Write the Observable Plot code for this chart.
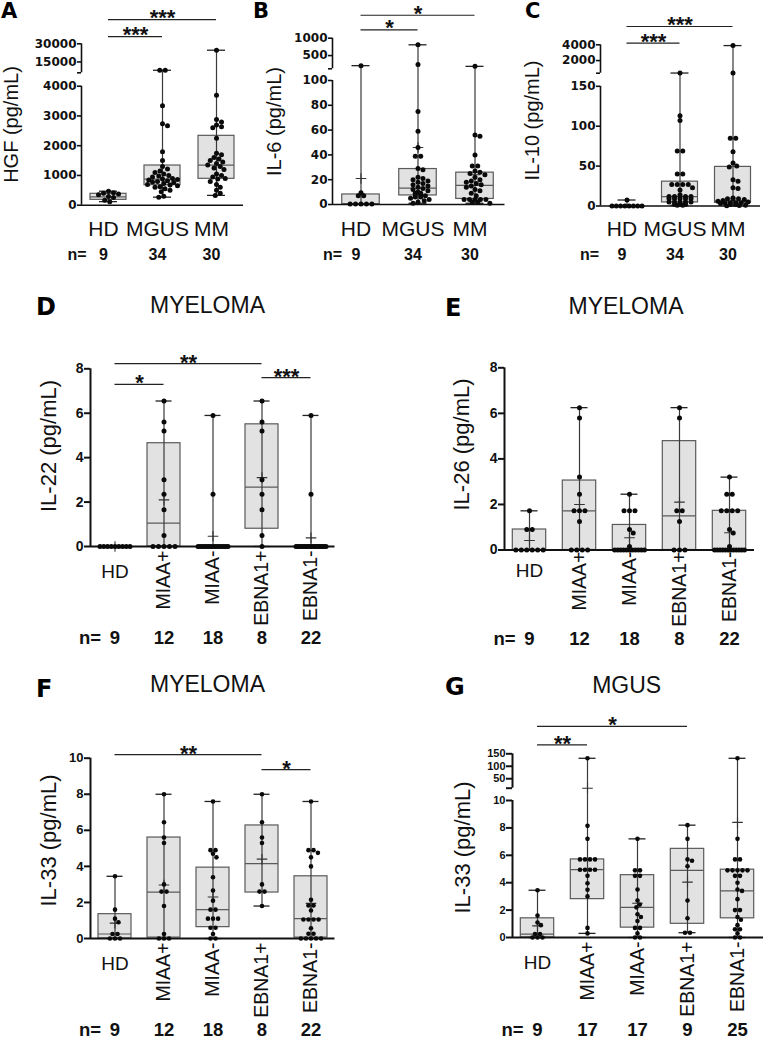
<!DOCTYPE html>
<html><head><meta charset="utf-8">
<script src="https://cdn.jsdelivr.net/npm/d3@7"></script>
<script src="https://cdn.jsdelivr.net/npm/@observablehq/plot@0.6"></script>
<style>
body{margin:0;background:#fff;}
#fig{position:relative;width:763px;height:1039px;overflow:hidden;background:#fff;}
</style></head><body><div id="fig"></div>
<script>
// ---------------- DATA ----------------
const topGroups = ["HD", "MGUS", "MM"];
const topCounts = [9, 34, 30];
const subGroups = ["HD", "MIAA+", "MIAA-", "EBNA1+", "EBNA1-"];
const myelomaCounts = [9, 12, 18, 8, 22];
const mgusCounts = [9, 17, 17, 9, 25];
const panelLetters = ["A", "B", "C", "D", "E", "F", "G"];
const panelTitles = ["MYELOMA", "MYELOMA", "MYELOMA", "MGUS"];

// A: HGF (pg/mL)
const hgfHD = [470, 420, 400, 380, 350, 290, 260, 170, 120];
const hgfMGUS = [8100, 8100, 3340, 2740, 2670, 1800, 1500, 1300, 1220, 1150, 1100, 1050, 1000, 980, 950, 900, 880, 860, 850, 820, 800, 780, 760, 730, 700, 680, 650, 620, 600, 550, 500, 450, 300, 270];
const hgfMM = [24700, 3700, 2880, 2800, 2700, 2640, 2600, 2250, 1750, 1700, 1600, 1550, 1500, 1450, 1400, 1350, 1300, 1250, 1200, 1050, 1000, 950, 900, 880, 800, 700, 600, 500, 400, 330];
const hgfQ1 = [180, 672, 887], hgfMedian = [282, 874, 1345], hgfQ3 = [383, 1334, 2332];
const hgfTicks = [0, 1000, 2000, 3000, 4000, 6000, 15000, 30000];
const hgfSig = [{from: "HD", to: "MGUS", y: 36000, label: "***"}, {from: "HD", to: "MM", y: 50000, label: "***"}];

// B: IL-6
const il6HD = [210, 9.5, 7, 7, 0.5, 0.5, 0.5, 0.5, 0.5];
const il6MGUS = [810, 244, 75, 59, 46, 39, 39, 29, 28, 22, 21, 20, 19, 18, 17, 16, 15, 14, 13, 12, 11, 10, 9, 9, 8, 8, 7, 6, 6, 5, 4, 3, 2, 1];
const il6MM = [190, 56, 55, 40, 31, 31, 27, 26, 25, 24, 22, 20, 19, 18, 17, 16, 15, 14, 12, 11, 9, 7, 4, 4, 4, 4, 4, 2, 2, 1];
const il6Q1 = [0.3, 7.3, 4.5], il6Median = [0.5, 13.2, 15.4], il6Q3 = [8.1, 28.6, 25.7], il6Mean = [21, 46, 24];
const il6Ticks = [0, 20, 40, 60, 80, 100, 120, 500, 1000];
const il6Sig = [{from: "HD", to: "MGUS", y: 1240, label: "*"}, {from: "HD", to: "MM", y: 1660, label: "*"}];

// C: IL-10
const il10HD = [7.5, 0, 0, 0, 0, 0, 0, 0, 0];
const il10MGUS = [420, 113, 107, 69, 69, 40, 40, 27, 27, 27, 27, 23, 20, 14, 12, 12, 12, 12, 12, 9, 9, 9, 9, 9, 5, 5, 5, 5, 5, 2, 2, 2, 1, 1];
const il10MM = [3900, 420, 85, 85, 68, 54, 50, 49, 33, 31, 23, 22, 10, 9, 9, 9, 8, 7, 6, 5, 4, 4, 4, 4, 3, 2, 2, 1, 0.5, 0.3];
const il10Q1 = [0, 4.5, 4], il10Median = [0, 11.8, 6], il10Q3 = [0, 30.5, 49];
const il10Ticks = [0, 50, 100, 150, 400, 2000, 4000];
const il10Sig = [{from: "HD", to: "MGUS", y: 4200, label: "***"}, {from: "HD", to: "MM", y: 6320, label: "***"}];

// D: IL-22 myeloma
const il22HD = [0, 0, 0, 0, 0, 0, 0, 0, 0];
const il22MIAApos = [6.55, 5.6, 5.2, 3.0, 2.35, 1.65, 0.5, 0, 0, 0, 0, 0];
const il22MIAAneg = [5.9, 2.35, 0, 0, 0, 0, 0, 0, 0, 0, 0, 0, 0, 0, 0, 0, 0, 0];
const il22EBNApos = [6.55, 5.6, 5.2, 3.0, 2.35, 1.65, 0.5, 0];
const il22EBNAneg = [5.9, 2.35, 0, 0, 0, 0, 0, 0, 0, 0, 0, 0, 0, 0, 0, 0, 0, 0, 0, 0, 0, 0];
const il22Q1 = [0, 0, 0, 0.8, 0], il22Median = [0, 1.05, 0, 2.67, 0], il22Q3 = [0, 4.65, 0, 5.5, 0];
const il22Mean = [0, 2.1, 0.46, 3.1, 0.39];
const il22Sig = [{from: "HD", to: "MIAA+", y: 7.3, label: "*"}, {from: "HD", to: "EBNA1+", y: 8.23, label: "**"}, {from: "EBNA1+", to: "EBNA1-", y: 7.6, label: "***"}];

// E: IL-26 myeloma
const il26HD = [1.72, 0.9, 0.9, 0, 0, 0, 0, 0, 0];
const il26MIAApos = [6.25, 5.8, 3.2, 2.45, 1.72, 1.72, 1.72, 1.25, 0, 0, 0, 0];
const il26MIAAneg = [2.45, 1.72, 1.72, 1.72, 0.9, 0.75, 0.15, 0, 0, 0, 0, 0, 0, 0, 0, 0, 0, 0];
const il26EBNApos = [6.25, 5.8, 1.72, 1.72, 1.25, 0, 0, 0];
const il26EBNAneg = [3.2, 2.45, 2.45, 1.72, 1.72, 1.72, 1.72, 0.9, 0.75, 0.15, 0, 0, 0, 0, 0, 0, 0, 0, 0, 0, 0, 0];
const il26Q1 = [0, 0, 0, 0, 0], il26Median = [0, 1.72, 0, 1.5, 0], il26Q3 = [0.9, 3.05, 1.1, 4.78, 1.72];
const il26Mean = [0.42, 2.0, 0.54, 2.1, 0.76];

// F: IL-33 myeloma
const il33mHD = [3.45, 1.6, 1.1, 0.9, 0.25, 0.25, 0, 0, 0];
const il33mMIAApos = [8.0, 6.45, 5.6, 5.3, 3.0, 2.6, 2.6, 1.8, 0.25, 0, 0, 0];
const il33mMIAAneg = [7.6, 4.9, 4.9, 4.7, 4.5, 3.4, 2.66, 2.1, 1.6, 1.6, 1.1, 1.1, 1.1, 0.6, 0.6, 0.25, 0, 0];
const il33mEBNApos = [8.0, 6.45, 5.6, 5.3, 3.0, 2.6, 2.6, 1.8];
const il33mEBNAneg = [7.6, 4.9, 4.9, 4.75, 4.5, 4.0, 2.15, 1.83, 1.83, 1.55, 1.05, 1.05, 1.05, 1.05, 0.57, 0.26, 0.26, 0, 0, 0, 0, 0];
const il33mQ1 = [0, 0.05, 0.63, 2.55, 0.05], il33mMedian = [0.25, 2.57, 1.6, 4.15, 1.1], il33mQ3 = [1.35, 5.6, 3.93, 6.27, 3.45];
const il33mMean = [0.85, 2.97, 2.3, 4.4, 1.95];
const il33mSig = [{from: "HD", to: "EBNA1+", y: 10.2, label: "**"}, {from: "EBNA1+", to: "EBNA1-", y: 9.37, label: "*"}];

// G: IL-33 MGUS
const il33gHD = [3.45, 1.6, 1.1, 0.9, 0.25, 0.25, 0, 0, 0];
const il33gMIAApos = [132, 8.15, 7.2, 5.7, 5.7, 5.7, 5.7, 4.95, 4.95, 4.95, 4.95, 4.5, 3.96, 3.48, 3.0, 0.7, 0.3];
const il33gMIAAneg = [7.2, 4.9, 4.9, 4.5, 4.5, 3.5, 2.7, 2.4, 2.2, 1.7, 1.5, 1.2, 0.7, 0.7, 0.3, 0, 0];
const il33gEBNApos = [8.2, 7.2, 5.7, 5.6, 5.2, 2.7, 1.4, 0.35, 0.35];
const il33gEBNAneg = [132, 7.2, 5.7, 5.7, 4.9, 4.9, 4.9, 4.9, 4.9, 4.5, 4.5, 4.0, 3.5, 3.4, 2.8, 2.0, 2.0, 1.5, 1.3, 0.9, 0.6, 0.6, 0.3, 0, 0];
const il33gQ1 = [0, 2.8, 0.72, 1.0, 1.4], il33gMedian = [0.25, 4.95, 2.2, 4.9, 3.4], il33gQ3 = [1.4, 5.7, 4.55, 6.47, 4.95];
const il33gMean = [0.85, 12, 2.5, 4.04, 8.4];
const il33gTicks = [0, 2, 4, 6, 8, 10, 12, 50, 100, 150];
const il33gSig = [{from: "HD", to: "MIAA+", y: 186, label: "**"}, {from: "HD", to: "EBNA1+", y: 260, label: "*"}];

// ---------------- LAYOUT ----------------
const fig = document.getElementById("fig");
const SANS = "Liberation Sans, Arial, Helvetica, sans-serif";

function swarm(vals, ys, r, maxHalf) {
  const d = 2 * r;
  const counts = d3.rollup(vals, v => v.length, v => v);
  const keys = Array.from(counts.keys()).sort((a, b) => b - a);
  const placed = [], out = [];
  for (const v of keys) {
    const k = counts.get(v), y = ys(v);
    if (k > 1) {
      const sp = Math.min(d * 1.1, (2 * maxHalf) / (k - 1));
      for (let i = 0; i < k; i++) {
        const x = (i - (k - 1) / 2) * sp;
        placed.push([x, y]); out.push({v, off: x});
      }
    } else {
      let best = 0, bestScore = -Infinity;
      for (let j = 0; j < 200; j++) {
        const c = j === 0 ? 0 : (j % 2 ? 1 : -1) * Math.ceil(j / 2) * r * 0.5;
        if (Math.abs(c) > maxHalf) break;
        const md = placed.length ? d3.min(placed, p => Math.hypot(p[0] - c, p[1] - y)) : Infinity;
        if (md >= d * 0.95) { best = c; break; }
        if (md > bestScore) { bestScore = md; best = c; }
      }
      placed.push([best, y]); out.push({v, off: best});
    }
  }
  return out;
}

function panel(c) {
  const L = c.svg.left, T = c.svg.top;
  const yRange = c.yPx.map(p => p - T);
  const ys = d3.scaleLinear().domain(c.yDomain).range(yRange);
  const n = c.groups.length;
  const frameR = c.frameL + n * c.step;
  const g0 = c.groups[0];
  const gi = Object.fromEntries(c.groups.map((g, i) => [g, i]));
  const baseY = c.yPx[0];
  const pts = [];
  c.groups.forEach((g, i) => swarm(c.values[i], ys, c.r, c.maxHalf)
    .forEach(o => pts.push({g, v: o.v, x: 0.5 + o.off / c.step})));
  const stats = c.groups.map((g, i) => ({
    g, q1: c.q1[i], med: c.med[i], q3: c.q3[i],
    lo: d3.min(c.values[i]), hi: d3.max(c.values[i]),
    mean: c.mean ? c.mean[i] : null
  }));
  const hidden = c.hidden || [];
  const marks = [
    Plot.rect(stats, {fx: "g", y1: "q1", y2: "q3", fill: "#e2e2e2", stroke: "#5a5a5a", strokeWidth: 1.2, insetLeft: c.boxInset, insetRight: c.boxInset}),
    Plot.tickY(stats, {fx: "g", y: "med", stroke: "#5a5a5a", strokeWidth: 1.2, insetLeft: c.boxInset, insetRight: c.boxInset}),
    Plot.ruleX(stats, {fx: "g", x: () => 0.5, y1: "lo", y2: "hi", stroke: "#3a3a3a", strokeWidth: 1.2}),
    Plot.tickY(stats, {fx: "g", y: "hi", stroke: "#222", strokeWidth: 1.3, insetLeft: c.capInset, insetRight: c.capInset}),
    Plot.tickY(stats, {fx: "g", y: "lo", stroke: "#222", strokeWidth: 1.3, insetLeft: c.capInset, insetRight: c.capInset}),
    Plot.ruleX(c.segments, {fx: () => g0, x: () => 0, y1: d => d[0], y2: d => d[1], stroke: "#111", strokeWidth: c.axisW}),
    Plot.ruleY([0], {fx: () => g0, y: d => d, x1: () => 0, x2: () => (c.baseEnd - c.frameL) / c.step, stroke: "#111", strokeWidth: c.axisW}),
    Plot.axisY({ticks: c.ticks, tickFormat: v => hidden.includes(v) ? "" : String(v), tickSize: c.tickSize, tickPadding: c.tickPad,
      fontSize: c.tickFontSize, fontWeight: "bold", fontFamily: c.tickFont, strokeWidth: c.axisW, label: null}),
    Plot.dot(stats.filter(d => d.mean != null), {fx: "g", x: () => 0.5, y: "mean", symbol: "plus", r: 3.5, stroke: "#333", strokeWidth: 1.1}),
    Plot.dot(pts, {fx: "g", x: "x", y: "v", r: c.r, fill: "#0a0a0a"})
  ];
  if (c.sig) {
    const rows = c.sig.map(s => ({...s, x1: gi[s.from] + 0.5, x2: gi[s.to] + 0.5}));
    marks.push(Plot.ruleY(rows, {fx: () => g0, y: "y", x1: "x1", x2: "x2", stroke: "#222", strokeWidth: 1.2}));
    marks.push(Plot.text(rows, {fx: () => g0, x: d => (d.x1 + d.x2) / 2, y: "y", text: "label", lineAnchor: "bottom", dy: c.starDy, fontSize: c.starSize, fontWeight: "bold", fontFamily: SANS}));
  }
  const labelRows = c.groups.map((g, i) => ({g, rot: !!c.rotate && i > 0}));
  marks.push(Plot.text(labelRows.filter(d => !d.rot), {fx: "g", x: () => 0.5, y: () => 0, text: "g", dy: c.labelY - baseY, dx: c.labelDx || 0, lineAnchor: "middle", fontSize: c.labelSize, fontFamily: SANS}));
  if (c.rotate) marks.push(Plot.text(labelRows.filter(d => d.rot), {fx: "g", x: () => 0.5, y: () => 0, text: "g", rotate: -90, textAnchor: "end", lineAnchor: "middle", dy: c.rotTop - baseY, fontSize: c.rotSize, fontFamily: SANS}));
  marks.push(Plot.text(c.groups.map((g, i) => ({g, n: c.counts[i]})), {fx: "g", x: () => 0.5, y: () => 0, text: d => String(d.n), dy: c.nY - baseY, dx: c.labelDx || 0, lineAnchor: "middle", fontSize: c.nSize, fontWeight: "bold", fontFamily: SANS}));
  marks.push(Plot.text(["n="], {fx: () => g0, x: () => 0.5, y: () => 0, text: d => d, textAnchor: "end", dx: c.nEqDx, dy: c.nY - baseY, lineAnchor: "middle", fontSize: c.nSize, fontWeight: "bold", fontFamily: SANS}));
  marks.push(Plot.text([c.ylabel], {fx: () => g0, x: () => (c.ylabelX - c.frameL) / c.step, y: () => ys.invert(c.ylabelY - T), text: d => d, rotate: -90, lineAnchor: "middle", fontSize: c.ylabelSize, fontFamily: SANS}));

  const el = Plot.plot({
    width: c.svg.w, height: c.svg.h,
    marginLeft: c.frameL - L, marginRight: L + c.svg.w - frameR,
    marginTop: Math.min(...yRange), marginBottom: c.svg.h - (baseY - T),
    fx: {domain: c.groups, padding: 0, axis: null, label: null},
    x: {domain: [0, 1], axis: null},
    y: {type: "linear", domain: c.yDomain, range: yRange},
    style: {position: "absolute", left: L + "px", top: T + "px", overflow: "visible", background: "transparent", fontFamily: SANS, color: "#111"},
    marks
  });
  fig.appendChild(el);
}

const topRow = {r: 2.5, maxHalf: 15, tickFont: "DejaVu Sans", tickFontSize: 12, tickSize: 4, tickPad: 1, axisW: 1.6,
  labelY: 229, labelDx: -5, labelSize: 21, nY: 254, nSize: 16, ylabelSize: 20, starSize: 22, starDy: 5.5};
const lowRow = {r: 2.5, maxHalf: 15, tickFont: SANS, tickFontSize: 14, tickSize: 6, tickPad: 1, axisW: 2,
  labelSize: 19, rotate: true, rotSize: 19.5, nSize: 18.5, nEqDx: -14, ylabelSize: 22, starSize: 22, starDy: 6, boxInset: 8, capInset: 16.5};

panel({...topRow, svg: {left: 0, top: 0, w: 254, h: 266}, groups: topGroups, counts: topCounts,
  values: [hgfHD, hgfMGUS, hgfMM], q1: hgfQ1, med: hgfMedian, q3: hgfQ3,
  yDomain: [0, 4000, 6000, 30000], yPx: [204.7, 85.7, 72.3, 43.3], segments: [[0, 4000], [6000, 30000]],
  ticks: hgfTicks, hidden: [6000], frameL: 81, step: 54, baseEnd: 243, boxInset: 9, capInset: 18,
  nEqDx: -22, ylabel: "HGF (pg/mL)", ylabelX: 11, ylabelY: 124, sig: hgfSig});

panel({...topRow, svg: {left: 254, top: 0, w: 254, h: 266}, groups: topGroups, counts: topCounts,
  values: [il6HD, il6MGUS, il6MM], q1: il6Q1, med: il6Median, q3: il6Q3, mean: il6Mean,
  yDomain: [0, 100, 120, 1000], yPx: [204, 80, 68.3, 37.7], segments: [[0, 100], [120, 1000]],
  ticks: il6Ticks, hidden: [120], frameL: 331, step: 57.5, baseEnd: 505, boxInset: 9.75, capInset: 19.5,
  nEqDx: -19, ylabel: "IL-6 (pg/mL)", ylabelX: 272.5, ylabelY: 121, sig: il6Sig});

panel({...topRow, svg: {left: 508, top: 0, w: 255, h: 266}, groups: topGroups, counts: topCounts,
  values: [il10HD, il10MGUS, il10MM], q1: il10Q1, med: il10Median, q3: il10Q3,
  yDomain: [0, 150, 400, 4000], yPx: [205.5, 85.8, 72.7, 44.3], segments: [[0, 150], [400, 4000]],
  ticks: il10Ticks, hidden: [400], frameL: 600, step: 53, baseEnd: 760, boxInset: 8.5, capInset: 17.5,
  nEqDx: -28, ylabel: "IL-10 (pg/mL)", ylabelX: 531.7, ylabelY: 120, sig: il10Sig});

panel({...lowRow, svg: {left: 0, top: 330, w: 380, h: 320}, groups: subGroups, counts: myelomaCounts,
  values: [il22HD, il22MIAApos, il22MIAAneg, il22EBNApos, il22EBNAneg], q1: il22Q1, med: il22Median, q3: il22Q3, mean: il22Mean,
  yDomain: [0, 8], yPx: [546, 368.3], segments: [[0, 8]], ticks: [0, 2, 4, 6, 8],
  frameL: 89.5, step: 49, baseEnd: 334, labelY: 571.5, rotTop: 550, nY: 638,
  ylabel: "IL-22 (pg/mL)", ylabelX: 47.5, ylabelY: 445.5, sig: il22Sig});

panel({...lowRow, svg: {left: 380, top: 330, w: 383, h: 320}, groups: subGroups, counts: myelomaCounts,
  values: [il26HD, il26MIAApos, il26MIAAneg, il26EBNApos, il26EBNAneg], q1: il26Q1, med: il26Median, q3: il26Q3, mean: il26Mean,
  yDomain: [0, 8], yPx: [549.5, 367.3], segments: [[0, 8]], ticks: [0, 2, 4, 6, 8],
  frameL: 503.5, step: 50.3, baseEnd: 755, labelY: 570, rotTop: 551, nY: 638.3, boxInset: 8.3,
  ylabel: "IL-26 (pg/mL)", ylabelX: 461, ylabelY: 444});

panel({...lowRow, svg: {left: 0, top: 725, w: 380, h: 314}, groups: subGroups, counts: myelomaCounts,
  values: [il33mHD, il33mMIAApos, il33mMIAAneg, il33mEBNApos, il33mEBNAneg], q1: il33mQ1, med: il33mMedian, q3: il33mQ3, mean: il33mMean,
  yDomain: [0, 10], yPx: [938, 757.7], segments: [[0, 10]], ticks: [0, 2, 4, 6, 8, 10], r: 2.3, tickFontSize: 13,
  frameL: 89.5, step: 49, baseEnd: 334, labelY: 963.5, rotTop: 942, nY: 1030,
  ylabel: "IL-33 (pg/mL)", ylabelX: 47.5, ylabelY: 840, sig: il33mSig});

panel({...lowRow, svg: {left: 380, top: 700, w: 383, h: 339}, groups: subGroups, counts: mgusCounts,
  values: [il33gHD, il33gMIAApos, il33gMIAAneg, il33gEBNApos, il33gEBNAneg], q1: il33gQ1, med: il33gMedian, q3: il33gQ3, mean: il33gMean,
  yDomain: [0, 10, 12, 150], yPx: [937, 800, 787.7, 753.3], segments: [[0, 10], [12, 150]], ticks: il33gTicks, hidden: [12], r: 2.3,
  tickFontSize: 11, frameL: 510.5, step: 50.6, baseEnd: 765, labelY: 962, rotTop: 941, nY: 1030, boxInset: 8.3,
  ylabel: "IL-33 (pg/mL)", ylabelX: 460, ylabelY: 847, sig: il33gSig});

// panel letters and titles
const letterPos = [[1, 18.3, 21], [253, 18.3, 21], [525, 17.5, 21], [36, 314.5, 24], [445, 315.5, 24], [36, 697, 24], [445, 695, 24]];
const titlePos = [[207.5, 313.2], [626, 314], [207.5, 691.5], [626.7, 693.3]];
const ov = d3.select(fig).append("svg").attr("width", 763).attr("height", 1039)
  .style("position", "absolute").style("left", "0px").style("top", "0px").style("overflow", "visible");
ov.selectAll("text.l").data(panelLetters).join("text").attr("class", "l")
  .attr("x", (d, i) => letterPos[i][0]).attr("y", (d, i) => letterPos[i][1])
  .attr("font-family", "DejaVu Sans, sans-serif").attr("font-weight", "bold")
  .attr("font-size", (d, i) => letterPos[i][2]).attr("fill", "#000").text(d => d);
ov.selectAll("text.t").data(panelTitles).join("text").attr("class", "t")
  .attr("x", (d, i) => titlePos[i][0]).attr("y", (d, i) => titlePos[i][1])
  .attr("text-anchor", "middle").attr("font-family", SANS).attr("font-size", 23).attr("fill", "#111").text(d => d);
</script></body></html>
